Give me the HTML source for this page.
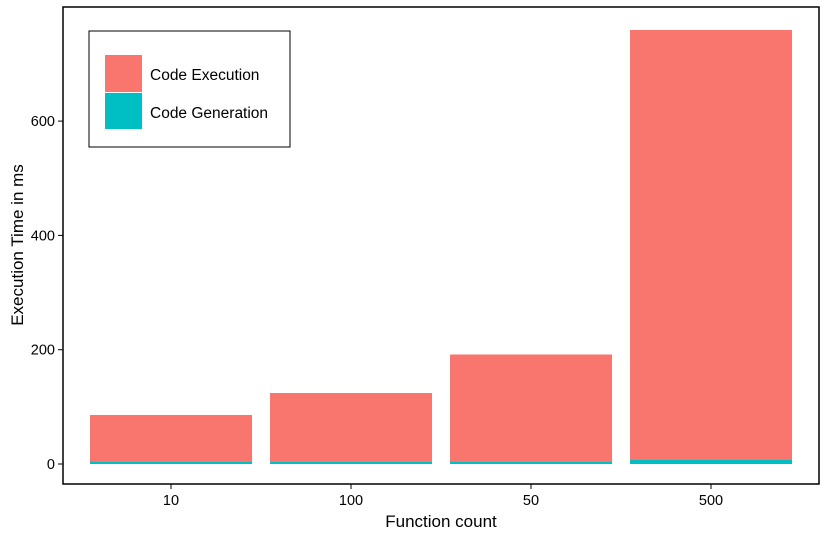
<!DOCTYPE html>
<html><head><meta charset="utf-8"><style>
body{margin:0;background:#fff;font-family:"Liberation Sans",Arial,sans-serif;}
</style></head><body>
<svg width="827" height="538" xmlns="http://www.w3.org/2000/svg" style="font-family:'Liberation Sans',Arial,sans-serif">
<rect x="0" y="0" width="827" height="538" fill="#fff"/>
<g id="bars" shape-rendering="crispEdges"></g>
<rect x="63" y="7" width="756" height="477" fill="none" stroke="#000" stroke-width="1.5"/>
<g id="axes"></g>
<text x="441" y="527" font-size="17" text-anchor="middle">Function count</text>
<text transform="translate(23,245) rotate(-90)" font-size="17" text-anchor="middle">Execution Time in ms</text>
<g>
<rect x="89" y="31" width="201" height="116" fill="#fff" stroke="#000" stroke-width="1"/>
<rect x="105" y="55" width="37" height="37" fill="#F8766D"/>
<rect x="105" y="93" width="37" height="36" fill="#00BFC4"/>
<text x="150" y="80" font-size="15.5">Code Execution</text>
<text x="150" y="118" font-size="15.5">Code Generation</text>
</g>
</svg>
<script>
const categories = ["10","100","50","500"];
const generation = [3.5, 3.5, 3.5, 7];
const execution = [82, 120.5, 188.5, 752];
const yTicks = [0, 200, 400, 600];

const NS = "http://www.w3.org/2000/svg";
const y = v => 464 - v * 0.5715;
const xc = i => 171 + i * 180;
const bw = 162;
const bars = document.getElementById('bars');
const axes = document.getElementById('axes');
function mk(tag, attrs, parent){const e=document.createElementNS(NS,tag);for(const k in attrs)e.setAttribute(k,attrs[k]);parent.appendChild(e);return e;}
categories.forEach((c,i)=>{
  const g = generation[i], e = execution[i];
  const r1 = mk('rect',{x:xc(i)-bw/2,y:y(g+e),width:bw,height:y(g)-y(g+e),fill:'#F8766D'},bars);
  
  
  const r2 = mk('rect',{x:xc(i)-bw/2,y:y(g),width:bw,height:y(0)-y(g),fill:'#00BFC4'},bars);
  
  
  mk('line',{x1:xc(i),x2:xc(i),y1:484,y2:489,stroke:'#000','stroke-width':1},axes);
  const t = mk('text',{x:xc(i),y:505,'font-size':14.5,'text-anchor':'middle',fill:'#000'},axes);
  t.textContent = c;
  
  
});
yTicks.forEach(v=>{
  mk('line',{x1:58,x2:63,y1:y(v),y2:y(v),stroke:'#000','stroke-width':1},axes);
  const t = mk('text',{x:55,y:y(v)+5,'font-size':14.5,'text-anchor':'end',fill:'#000'},axes);
  t.textContent = v;
  
  
});
</script>
</body></html>
